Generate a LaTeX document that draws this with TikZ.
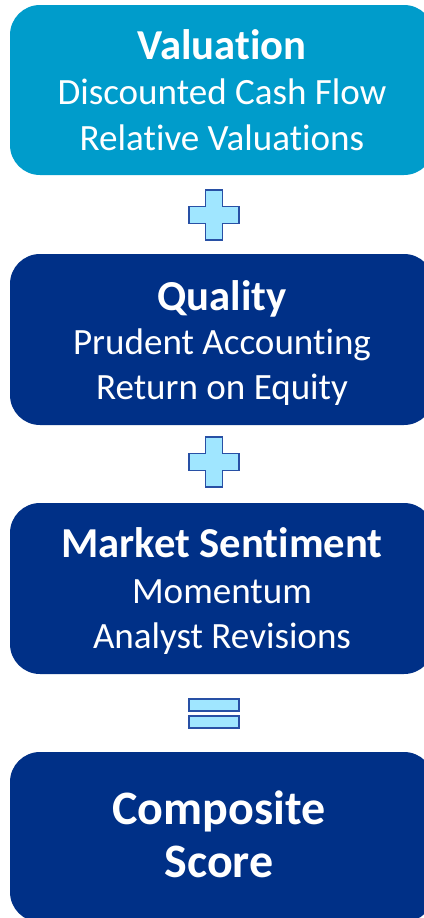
\documentclass[tikz,border=0pt]{standalone}
\usepackage{fontspec}
\setmainfont[Ligatures={NoCommon}]{Carlito}
\definecolor{lightbox}{RGB}{0,156,203}
\definecolor{darkbox}{RGB}{0,48,135}
\definecolor{signfill}{RGB}{160,230,255}
\definecolor{signline}{RGB}{40,80,165}
\tikzset{
  boxshape/.style={rounded corners=22.5pt, minimum width=318pt, minimum height=127.5pt, inner sep=0pt, draw=none},
  titletext/.style={text=white, font=\bfseries\fontsize{32}{38}\selectfont, anchor=base, inner sep=0pt},
  subtext/.style={text=white, font=\fontsize{27.8}{32}\selectfont, anchor=base, inner sep=0pt},
  bigtext/.style={text=white, font=\bfseries\fontsize{36}{42}\selectfont, anchor=base, inner sep=0pt},
  signstyle/.style={fill=signfill, draw=signline, line width=0.9pt, line join=miter}
}
\begin{document}
\begin{tikzpicture}[x=0.75pt, y=-0.75pt]
\useasboundingbox (0,0) rectangle (424,918);
\clip (0,0) rectangle (424,918);
\fill[white] (0,0) rectangle (424,918);
% boxes
\node[boxshape, fill=lightbox, minimum height=127.5pt] (b1) at (222,90) {};
\node[boxshape, fill=darkbox, minimum height=128.25pt] (b2) at (222,339.5) {};
\node[boxshape, fill=darkbox, minimum height=128.25pt] (b3) at (222,588.5) {};
\node[boxshape, fill=darkbox, minimum height=127.5pt] (b4) at (222,837) {};
% texts
\node[titletext] (t1) at (222,59) {Valuation};
\node[subtext] (s1a) at (222,104) {Discounted Cash Flow};
\node[subtext] (s1b) at (222,150) {Relative Valuations};
\node[titletext] (t2) at (222,310) {Quality};
\node[subtext] (s2a) at (222,354) {Prudent Accounting};
\node[subtext] (s2b) at (222,399) {Return on Equity};
\node[titletext] (t3) at (222,557) {Market Sentiment};
\node[subtext] (s3a) at (222,603) {Momentum};
\node[subtext] (s3b) at (222,648) {Analyst Revisions};
\node[bigtext] (t4a) at (219,824) {Composite};
\node[bigtext] (t4b) at (219,877) {Score};
% plus signs
\foreach \cy/\nm in {215/p1, 462/p2}{
  \coordinate (\nm) at (214,\cy);
  \draw[signstyle] ([shift={(-8.5,-25)}]\nm) -- ++(17,0) -- ++(0,16.5) -- ++(16.5,0) -- ++(0,17)
    -- ++(-16.5,0) -- ++(0,16.5) -- ++(-17,0) -- ++(0,-16.5) -- ++(-16.5,0) -- ++(0,-17) -- ++(16.5,0) -- cycle;
}
% equals sign
\coordinate (eq) at (214,713.5);
\draw[signstyle] ([shift={(-25,-14.5)}]eq) rectangle ++(50,12);
\draw[signstyle] ([shift={(-25,2.5)}]eq) rectangle ++(50,12);
\end{tikzpicture}
\end{document}
